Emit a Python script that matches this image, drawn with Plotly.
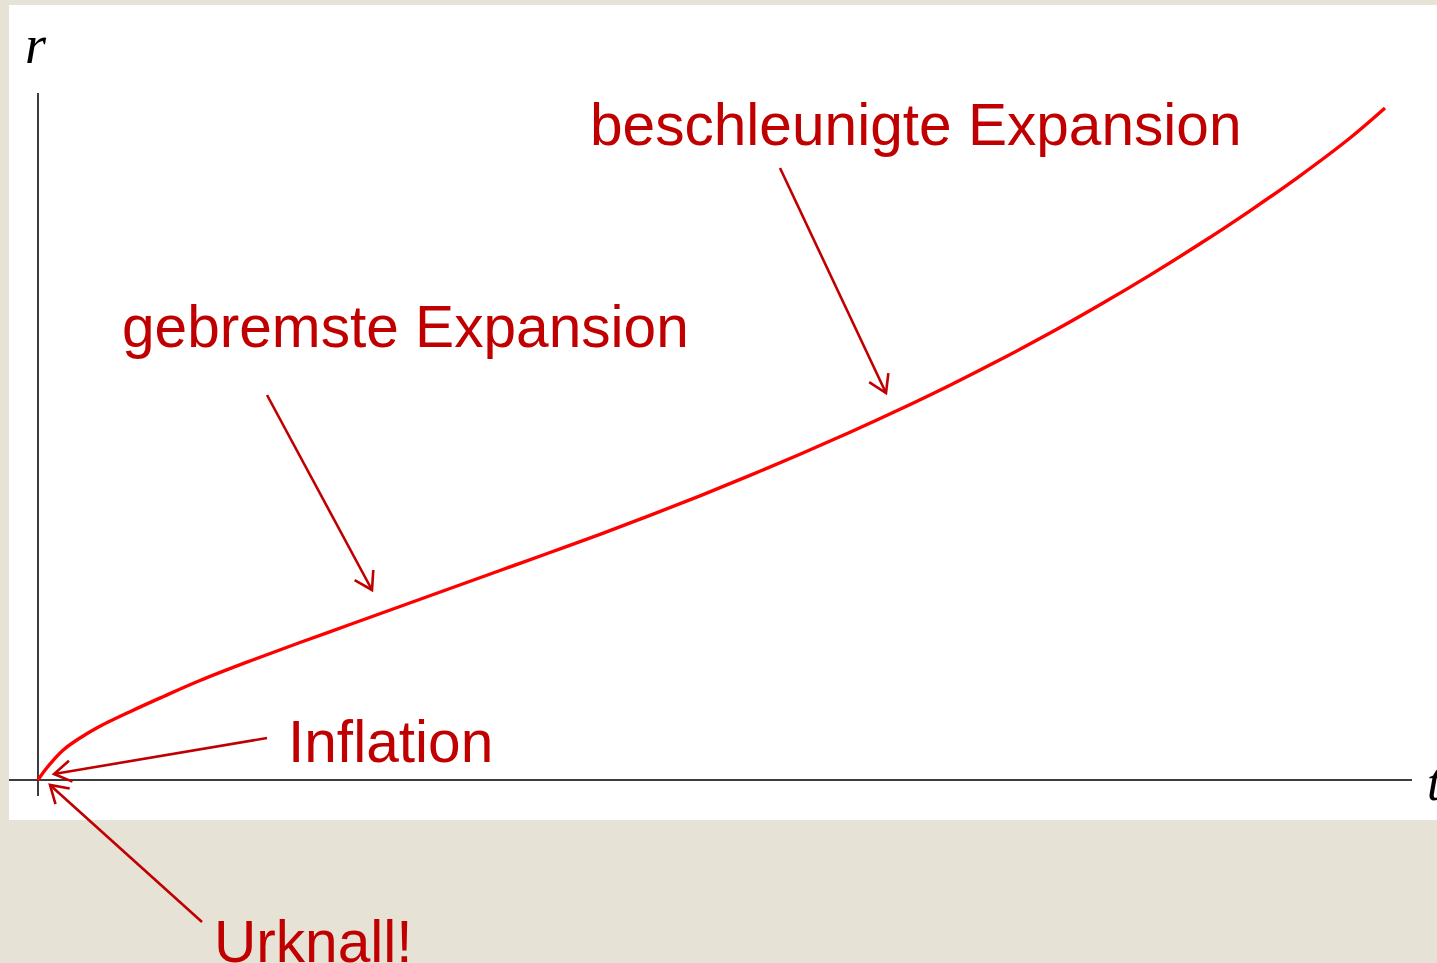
import math
import plotly.graph_objects as go

# Curve r(t) (arbitrary units)
t_vals = [0.0, 0.087, 0.253, 0.42, 0.587, 0.92, 1.25, 1.62, 2.12, 2.62, 3.12, 3.62, 4.12,
          4.62, 5.12, 5.62, 6.12, 6.62, 7.12, 7.62, 8.12, 8.62, 9.12, 9.62, 10.12,
          10.62, 11.12, 11.62, 12.12, 12.62, 13.12, 13.47]
r_vals = [0.0, 0.12, 0.30, 0.42, 0.52, 0.683, 0.833, 0.995, 1.19, 1.375, 1.555, 1.735, 1.915,
          2.095, 2.275, 2.457, 2.646, 2.842, 3.046, 3.257, 3.477, 3.707, 3.948, 4.202, 4.469,
          4.752, 5.049, 5.362, 5.692, 6.042, 6.42, 6.72]

# Labels and where their arrows point
label_texts = ["beschleunigte Expansion", "gebremste Expansion", "Inflation", "Urknall!"]
label_x = [5.50, 0.82, 2.48, 1.74]
label_y = [6.56, 4.54, 0.39, -1.61]
arrow_start = [(7.42, 6.12), (2.29, 3.85), (2.29, 0.42), (1.64, -1.42)]
arrow_end = [(8.48, 3.87), (3.34, 1.90), (0.16, 0.06), (0.12, -0.05)]

RED_TEXT = "#c00000"
CURVE = "#ff0000"
AXIS = "#3c3c3c"
BG = "#e6e2d6"

fig = go.Figure()
fig.add_trace(go.Scatter(
    x=t_vals, y=r_vals, mode="lines",
    line=dict(color=CURVE, width=3.4, shape="spline", smoothing=1.0),
    hoverinfo="skip", showlegend=False,
))

shapes = []
# white panel
shapes.append(dict(type="rect", xref="x", yref="y", x0=-0.29, x1=14.2, y0=-0.40, y1=7.75,
                   fillcolor="white", line=dict(width=0), layer="below"))
# axes
shapes.append(dict(type="line", xref="x", yref="y", x0=0, x1=0, y0=-0.16, y1=6.87,
                   line=dict(color=AXIS, width=2), layer="below"))
shapes.append(dict(type="line", xref="x", yref="y", x0=-0.29, x1=13.74, y0=0, y1=0,
                   line=dict(color=AXIS, width=2), layer="below"))

# arrows with open V heads
head_len = 0.20
half_ang = math.radians(32)
for (xs, ys), (xe, ye) in zip(arrow_start, arrow_end):
    shapes.append(dict(type="line", xref="x", yref="y", x0=xs, y0=ys, x1=xe, y1=ye,
                       line=dict(color=RED_TEXT, width=2.6)))
    ang = math.atan2(ys - ye, xs - xe)
    ax1 = xe + head_len * math.cos(ang + half_ang)
    ay1 = ye + head_len * math.sin(ang + half_ang)
    ax2 = xe + head_len * math.cos(ang - half_ang)
    ay2 = ye + head_len * math.sin(ang - half_ang)
    shapes.append(dict(type="path", xref="x", yref="y",
                       path=f"M{ax1},{ay1} L{xe},{ye} L{ax2},{ay2}",
                       line=dict(color=RED_TEXT, width=2.6)))

annotations = []
for txt, x, y in zip(label_texts, label_x, label_y):
    annotations.append(dict(x=x, y=y, xref="x", yref="y", text=txt, showarrow=False,
                            xanchor="left", yanchor="middle",
                            font=dict(family="Liberation Sans, Arial", size=58.6, color=RED_TEXT)))
annotations.append(dict(x=-0.02, y=7.35, xref="x", yref="y", text="<i>r</i>", showarrow=False,
                        xanchor="center", yanchor="middle",
                        font=dict(family="Liberation Serif, Times New Roman", size=54, color="black")))
annotations.append(dict(x=13.87, y=-0.02, xref="x", yref="y", text="<i>t</i>", showarrow=False,
                        xanchor="left", yanchor="middle",
                        font=dict(family="Liberation Serif, Times New Roman", size=52, color="black")))

fig.update_layout(
    width=1437, height=963, autosize=False,
    margin=dict(l=0, r=0, t=0, b=0, pad=0),
    paper_bgcolor=BG, plot_bgcolor=BG,
    xaxis=dict(range=[-0.38, 13.99], visible=False, fixedrange=True),
    yaxis=dict(range=[-1.83, 7.80], visible=False, fixedrange=True),
    shapes=shapes, annotations=annotations,
    showlegend=False,
)

fig.write_html("out.html", config={"displayModeBar": False},
               post_script="document.body.style.margin='0';")
